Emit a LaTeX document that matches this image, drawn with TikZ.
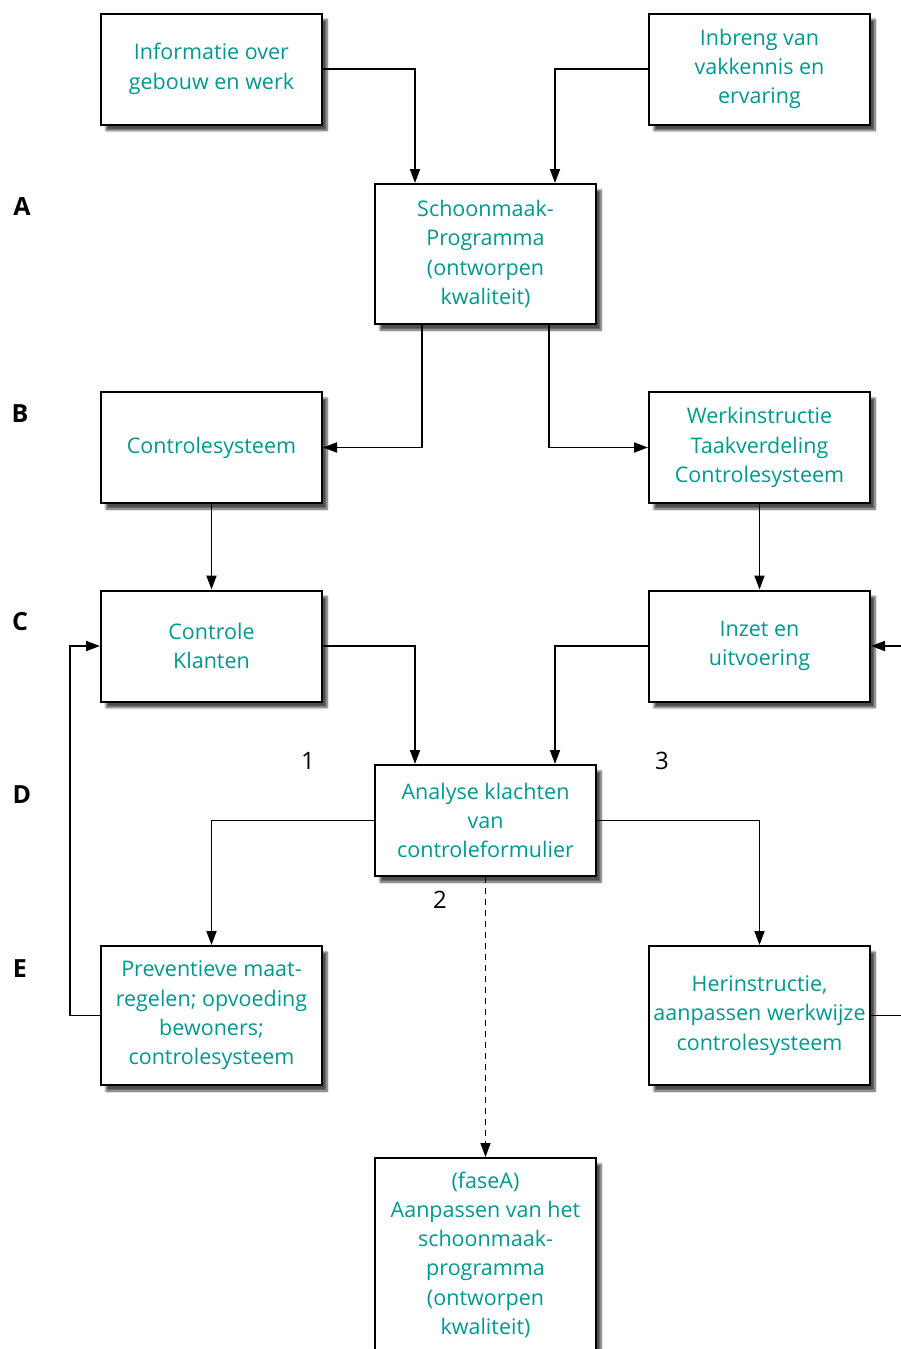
\documentclass[tikz,border=0pt]{standalone}
\usepackage{fontspec}
\setmainfont{Open Sans}
\usetikzlibrary{arrows.meta,shadows.blur}
\definecolor{tealtxt}{RGB}{0,152,144}
\begin{document}
\begin{tikzpicture}[x=1pt,y=-1pt,
  box/.style={draw=black,line width=2pt,fill=white,minimum width=221pt,minimum height=111pt,
    align=center,text=tealtxt,font=\fontsize{21.5}{29.3}\selectfont,inner sep=0pt,
    blur shadow={shadow xshift=5pt,shadow yshift=-6pt,shadow blur steps=7,shadow blur extra rounding=0pt,shadow opacity=70}},
  conn/.style={line width=1.8pt,-{Triangle[length=14pt,width=10pt]}},
  plain/.style={line width=1.8pt},
  lvl/.style={font=\fontsize{25}{28}\selectfont\bfseries,text=black},
  num/.style={font=\fontsize{24}{28}\selectfont,text=black}]
\useasboundingbox (0,0) rectangle (901,1349);
\node[box] (info) at (211.5,69) {Informatie over\\gebouw en werk};
\node[box] (inbreng) at (759.5,69) {Inbreng van\\vakkennis en\\ervaring};
\node[box,minimum height=140pt] (prog) at (485.5,254) {Schoonmaak-\\Programma\\(ontworpen\\kwaliteit)};
\node[box] (ctrlsys) at (211.5,447.5) {Controlesysteem};
\node[box] (werk) at (759.5,447.5) {Werkinstructie\\Taakverdeling\\Controlesysteem};
\node[box] (klant) at (211.5,646) {Controle\\Klanten};
\node[box] (inzet) at (759.5,646) {Inzet en\\uitvoering};
\node[box] (analyse) at (485.5,820.5) {Analyse klachten\\van\\controleformulier};
\node[box,minimum height=139pt] (prev) at (211.5,1015.5) {Preventieve maat-\\regelen; opvoeding\\bewoners;\\controlesysteem};
\node[box,minimum height=139pt] (herin) at (759.5,1015.5) {Herinstructie,\\aanpassen werkwijze\\controlesysteem};
\node[box,minimum height=210pt,anchor=north] (fase) at (485.5,1157) {\\[-61pt](faseA)\\Aanpassen van het\\schoonmaak-\\programma\\(ontworpen\\kwaliteit)};

\node[lvl] (lA) at (22,207) {A};
\node[lvl] (lB) at (20,414) {B};
\node[lvl] (lC) at (20,622) {C};
\node[lvl] (lD) at (22,795) {D};
\node[lvl] (lE) at (20,969) {E};
\node[num] (n1) at (308,761) {1};
\node[num] (n3) at (662,761) {3};
\node[num] (n2) at (440,900) {2};

\coordinate (edgeA) at (901,646);
\coordinate (edgeB) at (901,1015.5);

\draw[conn] (info.east) -| (415,0|-prog.north);
\draw[conn] (inbreng.west) -| (555,0|-prog.north);
\draw[conn] (422,0|-prog.south) |- (ctrlsys.east);
\draw[conn] (549,0|-prog.south) |- (werk.west);
\draw[conn] (ctrlsys.south) -- (klant.north);
\draw[conn] (werk.south) -- (inzet.north);
\draw[conn] (klant.east) -| (415,0|-analyse.north);
\draw[conn] (inzet.west) -| (555,0|-analyse.north);
\draw[conn] (analyse.west) -| (prev.north);
\draw[conn] (analyse.east) -| (herin.north);
\draw[conn,dash pattern=on 6pt off 5pt,line width=1.4pt] (analyse.south) -- (fase.north);
\draw[conn] (prev.west) -- (70,0|-prev.west) |- (klant.west);
\draw[plain] (herin.east) -- (edgeB);
\draw[conn] (edgeA) -- (inzet.east);
\end{tikzpicture}
\end{document}
